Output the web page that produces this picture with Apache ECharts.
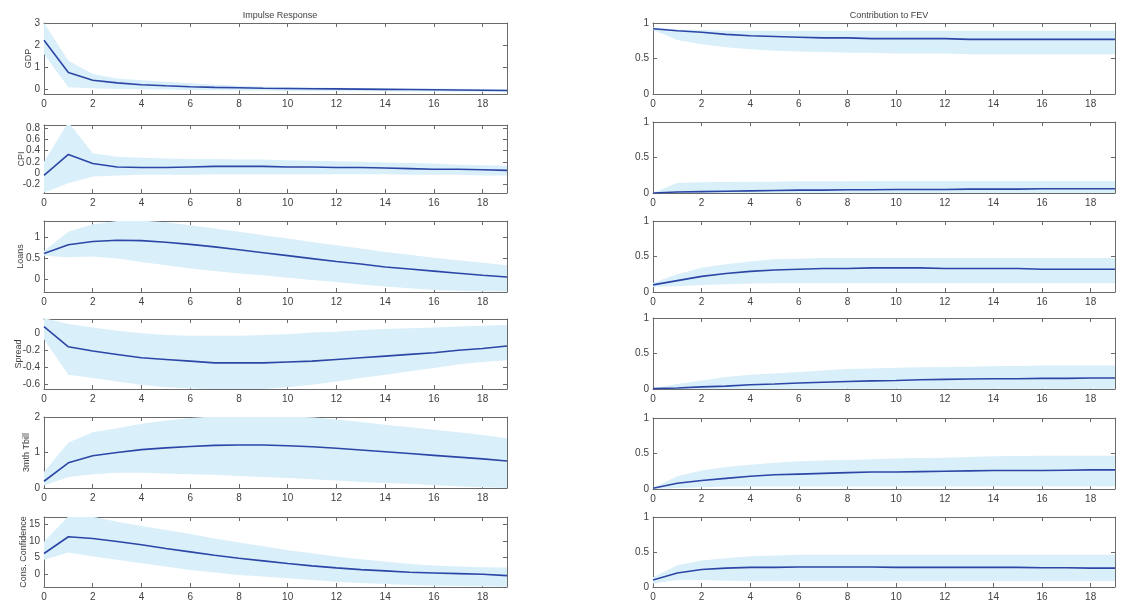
<!DOCTYPE html>
<html>
<head>
<meta charset="utf-8">
<script src="https://cdn.jsdelivr.net/npm/echarts@6/dist/echarts.min.js"></script>
<style>
  html, body { margin: 0; padding: 0; background: #fff; }
  #main { width: 1122px; height: 602px; }
</style>
</head>
<body>
<div id="main"></div>
<script>
var horizon = [0, 1, 2, 3, 4, 5, 6, 7, 8, 9, 10, 11, 12, 13, 14, 15, 16, 17, 18, 19];

// impulse responses: median and band
var gdpMid = [2.22, 0.77, 0.42, 0.3, 0.22, 0.17, 0.13, 0.1, 0.08, 0.06, 0.05, 0.04, 0.03, 0.02, 0.01, 0.0, -0.01, -0.02, -0.03, -0.04];
var gdpHi = [3.0, 1.3, 0.7, 0.5, 0.42, 0.35, 0.28, 0.22, 0.17, 0.14, 0.12, 0.1, 0.08, 0.07, 0.06, 0.05, 0.05, 0.04, 0.03, 0.03];
var gdpLo = [1.6, 0.1, 0.06, 0.03, 0.01, 0.0, -0.02, -0.03, -0.04, -0.05, -0.06, -0.07, -0.07, -0.08, -0.08, -0.09, -0.09, -0.1, -0.1, -0.1];

var cpiMid = [-0.04, 0.33, 0.17, 0.11, 0.1, 0.1, 0.11, 0.12, 0.12, 0.12, 0.11, 0.11, 0.1, 0.1, 0.09, 0.08, 0.07, 0.07, 0.06, 0.05];
var cpiHi = [0.2, 0.9, 0.35, 0.29, 0.27, 0.26, 0.25, 0.25, 0.24, 0.24, 0.23, 0.22, 0.21, 0.2, 0.19, 0.18, 0.17, 0.15, 0.14, 0.13];
var cpiLo = [-0.34, -0.18, -0.06, -0.04, -0.03, -0.03, -0.03, -0.02, -0.02, -0.02, -0.02, -0.02, -0.02, -0.02, -0.02, -0.03, -0.03, -0.03, -0.04, -0.04];

var loansMid = [0.62, 0.83, 0.91, 0.94, 0.93, 0.89, 0.84, 0.78, 0.71, 0.64, 0.57, 0.5, 0.43, 0.37, 0.3, 0.25, 0.2, 0.15, 0.1, 0.06];
var loansHi = [0.68, 1.14, 1.32, 1.4, 1.41, 1.37, 1.3, 1.22, 1.14, 1.06, 0.98, 0.9, 0.82, 0.74, 0.66, 0.59, 0.52, 0.46, 0.4, 0.34];
var loansLo = [0.57, 0.53, 0.55, 0.5, 0.42, 0.34, 0.26, 0.2, 0.14, 0.1, 0.04, -0.01, -0.06, -0.12, -0.17, -0.21, -0.25, -0.27, -0.28, -0.29];

var spreadMid = [0.08, -0.16, -0.21, -0.25, -0.29, -0.31, -0.33, -0.35, -0.35, -0.35, -0.34, -0.33, -0.31, -0.29, -0.27, -0.25, -0.23, -0.2, -0.18, -0.15];
var spreadHi = [0.18, 0.11, 0.07, 0.03, 0.0, -0.02, -0.03, -0.03, -0.03, -0.02, -0.01, 0.01, 0.02, 0.04, 0.05, 0.06, 0.07, 0.08, 0.09, 0.1];
var spreadLo = [-0.07, -0.49, -0.53, -0.57, -0.61, -0.64, -0.65, -0.67, -0.67, -0.66, -0.64, -0.61, -0.57, -0.53, -0.49, -0.45, -0.41, -0.37, -0.34, -0.32];

var tbillMid = [0.19, 0.71, 0.91, 1.0, 1.08, 1.13, 1.17, 1.2, 1.21, 1.21, 1.19, 1.16, 1.12, 1.07, 1.02, 0.97, 0.92, 0.87, 0.82, 0.76];
var tbillHi = [0.45, 1.28, 1.57, 1.68, 1.81, 1.9, 1.97, 2.02, 2.04, 2.04, 2.02, 1.99, 1.93, 1.86, 1.78, 1.71, 1.64, 1.57, 1.49, 1.4];
var tbillLo = [0.07, 0.31, 0.39, 0.43, 0.43, 0.41, 0.39, 0.37, 0.34, 0.31, 0.28, 0.25, 0.21, 0.17, 0.14, 0.12, 0.08, 0.05, 0.02, 0.0];

var consMid = [6.2, 11.2, 10.7, 9.8, 8.8, 7.7, 6.7, 5.7, 4.8, 4.0, 3.2, 2.5, 1.9, 1.4, 1.0, 0.6, 0.4, 0.2, 0.0, -0.4];
var consHi = [9.7, 17.3, 17.2, 15.7, 14.4, 13.2, 12.0, 10.7, 9.5, 8.4, 7.2, 6.3, 5.3, 4.5, 3.8, 3.1, 2.6, 2.3, 2.1, 2.0];
var consLo = [4.3, 6.5, 5.3, 4.3, 3.3, 2.3, 1.3, 0.5, -0.2, -0.7, -1.2, -1.7, -2.2, -2.6, -2.9, -3.2, -3.4, -3.5, -3.6, -3.7];

// contribution to forecast error variance
var fevGdpMid = [0.92, 0.89, 0.87, 0.84, 0.82, 0.81, 0.8, 0.79, 0.79, 0.78, 0.78, 0.78, 0.78, 0.77, 0.77, 0.77, 0.77, 0.77, 0.77, 0.77];
var fevGdpHi = [0.94, 0.91, 0.9, 0.89, 0.89, 0.89, 0.89, 0.89, 0.89, 0.89, 0.89, 0.89, 0.89, 0.89, 0.89, 0.89, 0.89, 0.89, 0.89, 0.89];
var fevGdpLo = [0.9, 0.76, 0.7, 0.66, 0.63, 0.61, 0.6, 0.59, 0.58, 0.58, 0.57, 0.57, 0.57, 0.56, 0.56, 0.56, 0.56, 0.56, 0.56, 0.56];

var fevCpiMid = [0.0, 0.015, 0.02, 0.025, 0.03, 0.035, 0.04, 0.04, 0.045, 0.045, 0.05, 0.05, 0.05, 0.055, 0.055, 0.055, 0.06, 0.06, 0.06, 0.06];
var fevCpiHi = [0.005, 0.14, 0.15, 0.155, 0.16, 0.16, 0.165, 0.165, 0.165, 0.17, 0.17, 0.17, 0.17, 0.17, 0.17, 0.17, 0.17, 0.17, 0.17, 0.17];
var fevCpiLo = [0, 0, 0, 0, 0, 0, 0, 0, 0, 0, 0, 0, 0, 0, 0, 0, 0, 0, 0, 0];

var fevLoansMid = [0.1, 0.16, 0.22, 0.26, 0.29, 0.31, 0.32, 0.33, 0.33, 0.34, 0.34, 0.34, 0.33, 0.33, 0.33, 0.33, 0.32, 0.32, 0.32, 0.32];
var fevLoansHi = [0.13, 0.25, 0.34, 0.39, 0.43, 0.46, 0.47, 0.48, 0.48, 0.48, 0.48, 0.48, 0.48, 0.48, 0.48, 0.48, 0.48, 0.48, 0.48, 0.48];
var fevLoansLo = [0.07, 0.08, 0.1, 0.11, 0.12, 0.125, 0.125, 0.125, 0.125, 0.125, 0.125, 0.125, 0.125, 0.125, 0.125, 0.125, 0.125, 0.125, 0.125, 0.125];

var fevSpreadMid = [0.005, 0.015, 0.03, 0.04, 0.06, 0.07, 0.085, 0.095, 0.105, 0.115, 0.12, 0.13, 0.135, 0.14, 0.145, 0.145, 0.15, 0.15, 0.155, 0.155];
var fevSpreadHi = [0.01, 0.07, 0.12, 0.17, 0.2, 0.22, 0.24, 0.26, 0.28, 0.29, 0.3, 0.305, 0.31, 0.315, 0.32, 0.325, 0.33, 0.33, 0.33, 0.33];
var fevSpreadLo = [0, 0, 0, 0, 0, 0, 0, 0.005, 0.005, 0.005, 0.005, 0.005, 0.005, 0.005, 0.005, 0.005, 0.005, 0.005, 0.005, 0.005];

var fevTbillMid = [0.01, 0.08, 0.12, 0.15, 0.18, 0.2, 0.21, 0.22, 0.23, 0.24, 0.24, 0.245, 0.25, 0.255, 0.26, 0.26, 0.26, 0.265, 0.27, 0.27];
var fevTbillHi = [0.015, 0.18, 0.26, 0.31, 0.34, 0.37, 0.39, 0.4, 0.41, 0.42, 0.43, 0.435, 0.44, 0.45, 0.46, 0.465, 0.47, 0.47, 0.47, 0.47];
var fevTbillLo = [0, 0.015, 0.025, 0.035, 0.035, 0.035, 0.035, 0.035, 0.035, 0.035, 0.035, 0.035, 0.035, 0.035, 0.04, 0.04, 0.04, 0.04, 0.04, 0.04];

var fevConsMid = [0.1, 0.2, 0.25, 0.27, 0.28, 0.28, 0.285, 0.285, 0.285, 0.285, 0.28, 0.28, 0.28, 0.28, 0.28, 0.28, 0.275, 0.275, 0.27, 0.27];
var fevConsHi = [0.14, 0.31, 0.38, 0.41, 0.44, 0.45, 0.46, 0.46, 0.46, 0.46, 0.46, 0.46, 0.46, 0.46, 0.46, 0.46, 0.46, 0.46, 0.46, 0.46];
var fevConsLo = [0.05, 0.1, 0.1, 0.09, 0.085, 0.085, 0.085, 0.085, 0.085, 0.085, 0.085, 0.085, 0.085, 0.085, 0.085, 0.085, 0.085, 0.085, 0.085, 0.085];

var varNames = ['GDP', 'CPI', 'Loans', 'Spread', '3mth Tbill', 'Cons. Confidence'];
var colTitles = ['Impulse Response', 'Contribution to FEV'];

var panels = [
    // left column
    {col: 0, row: 0, mid: gdpMid, lo: gdpLo, hi: gdpHi, min: -0.2, max: 3, iv: 1, gap: 11},
    {col: 0, row: 1, mid: cpiMid, lo: cpiLo, hi: cpiHi, min: -0.35, max: 0.85, iv: 0.2, gap: 18},
    {col: 0, row: 2, mid: loansMid, lo: loansLo, hi: loansHi, min: -0.3, max: 1.4, iv: 0.5, gap: 19},
    {col: 0, row: 3, mid: spreadMid, lo: spreadLo, hi: spreadHi, min: -0.66, max: 0.17, iv: 0.2, gap: 21},
    {col: 0, row: 4, mid: tbillMid, lo: tbillLo, hi: tbillHi, min: 0, max: 2, iv: 1, gap: 13},
    {col: 0, row: 5, mid: consMid, lo: consLo, hi: consHi, min: -3.8, max: 17.1, iv: 5, gap: 16},
    // right column
    {col: 1, row: 0, mid: fevGdpMid, lo: fevGdpLo, hi: fevGdpHi, min: 0, max: 1, iv: 0.5},
    {col: 1, row: 1, mid: fevCpiMid, lo: fevCpiLo, hi: fevCpiHi, min: 0, max: 1, iv: 0.5},
    {col: 1, row: 2, mid: fevLoansMid, lo: fevLoansLo, hi: fevLoansHi, min: 0, max: 1, iv: 0.5},
    {col: 1, row: 3, mid: fevSpreadMid, lo: fevSpreadLo, hi: fevSpreadHi, min: 0, max: 1, iv: 0.5},
    {col: 1, row: 4, mid: fevTbillMid, lo: fevTbillLo, hi: fevTbillHi, min: 0, max: 1, iv: 0.5},
    {col: 1, row: 5, mid: fevConsMid, lo: fevConsLo, hi: fevConsHi, min: 0, max: 1, iv: 0.5}
];

// layout (px)
var colLeft = [44, 653];
var colWidth = [463, 462];
var rowTop = [[23, 125, 221, 319, 417, 517], [23, 122, 221, 318, 418, 517]];
var rowBottom = [[94, 193, 292, 389, 488, 587], [94, 193, 292, 389, 489, 587]];

var frameColor = '#6a6a6a';
var textColor = '#404040';
var bandColor = '#d9effa';
var lineColor = '#2c46a6';
var fontFamily = 'Liberation Sans, Arial, sans-serif';

function tickFmt(iv) {
    return function (v) {
        var k = v / iv;
        if (Math.abs(k - Math.round(k)) > 1e-6) return '';
        return String(+v.toFixed(2));
    };
}

// the confidence band as one polygon: upper edge forward, lower edge back
function bandRenderer(p) {
    return function (params, api) {
        if (params.dataIndex !== 0) return null;
        var pts = [];
        for (var i = 0; i < horizon.length; i++) pts.push(api.coord([horizon[i], p.hi[i]]));
        for (var j = horizon.length - 1; j >= 0; j--) pts.push(api.coord([horizon[j], p.lo[j]]));
        return {
            type: 'polygon',
            shape: {points: pts},
            style: {fill: bandColor, stroke: null}
        };
    };
}

var grids = [], xAxes = [], yAxes = [], series = [];

panels.forEach(function (p, k) {
    grids.push({
        left: colLeft[p.col],
        width: colWidth[p.col],
        top: rowTop[p.col][p.row],
        height: rowBottom[p.col][p.row] - rowTop[p.col][p.row],
        containLabel: false
    });
    var tick = {show: true, inside: true, length: 4, lineStyle: {color: frameColor}};
    var axLine = {show: true, onZero: false, lineStyle: {color: frameColor, width: 1}};
    xAxes.push({
        gridIndex: k, type: 'value', min: 0, max: 19, interval: 2, position: 'bottom',
        axisLine: axLine, axisTick: tick, splitLine: {show: false},
        axisLabel: {color: textColor, fontSize: 10, fontFamily: fontFamily, margin: 5, formatter: tickFmt(2)}
    });
    xAxes.push({
        gridIndex: k, type: 'value', min: 0, max: 19, interval: 2, position: 'top',
        axisLine: axLine, axisTick: tick, splitLine: {show: false}, axisLabel: {show: false}
    });
    var yl = {
        gridIndex: k, type: 'value', min: p.min, max: p.max, minInterval: p.iv, maxInterval: p.iv,
        position: 'left', axisLine: axLine, axisTick: tick, splitLine: {show: false},
        axisLabel: {color: textColor, fontSize: 10, fontFamily: fontFamily, margin: 4, formatter: tickFmt(p.iv)}
    };
    if (p.col === 0) {
        yl.name = varNames[p.row];
        yl.nameLocation = 'middle';
        yl.nameRotate = 90;
        yl.nameGap = p.gap;
        yl.nameMoveOverlap = false;
        yl.nameTextStyle = {color: textColor, fontSize: 9, fontFamily: fontFamily};
    }
    yAxes.push(yl);
    yAxes.push({
        gridIndex: k, type: 'value', min: p.min, max: p.max, minInterval: p.iv, maxInterval: p.iv,
        position: 'right', axisLine: axLine, axisTick: tick, splitLine: {show: false}, axisLabel: {show: false}
    });

    series.push({
        type: 'custom', xAxisIndex: 2 * k, yAxisIndex: 2 * k,
        data: horizon.map(function (h, i) { return [h, p.lo[i], p.hi[i]]; }),
        encode: {x: 0, y: [1, 2]},
        renderItem: bandRenderer(p), clip: true, silent: true, z: 1
    });
    series.push({
        type: 'line', xAxisIndex: 2 * k, yAxisIndex: 2 * k,
        data: horizon.map(function (h, i) { return [h, p.mid[i]]; }),
        symbol: 'none', lineStyle: {color: lineColor, width: 1.6}, z: 3
    });
});

var chart = echarts.init(document.getElementById('main'));
chart.setOption({
    animation: false,
    backgroundColor: '#fff',
    title: [
        {text: colTitles[0], left: 275, top: 6, textAlign: 'center',
         textStyle: {fontSize: 9, fontWeight: 'normal', color: textColor, fontFamily: fontFamily}},
        {text: colTitles[1], left: 884, top: 6, textAlign: 'center',
         textStyle: {fontSize: 9, fontWeight: 'normal', color: textColor, fontFamily: fontFamily}}
    ],
    grid: grids,
    xAxis: xAxes,
    yAxis: yAxes,
    series: series
});
</script>
</body>
</html>
